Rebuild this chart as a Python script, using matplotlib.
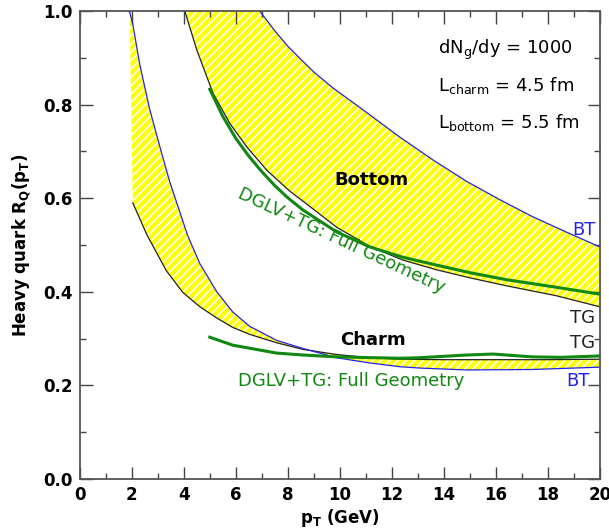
import numpy as np
import matplotlib
matplotlib.use("Agg")
import matplotlib.pyplot as plt
from matplotlib.ticker import MultipleLocator

plt.rcParams['font.family'] = ['DejaVu Sans']
plt.rcParams['hatch.color'] = 'white'
plt.rcParams['hatch.linewidth'] = 1.2

# charm band edges
charm_bt_pt = [1.85, 1.92, 2.04, 2.31, 2.69, 3.08, 3.46, 3.85, 4.15, 4.62, 5.27, 5.88,
               6.54, 7.58, 8.58, 9.88, 11.15, 12.3, 13.1, 14.9, 17.4, 20.0]
charm_bt_r = [1.0, 0.998, 0.972, 0.885, 0.79, 0.71, 0.635, 0.57, 0.52, 0.46, 0.40, 0.357,
              0.326, 0.296, 0.279, 0.259, 0.248, 0.240, 0.237, 0.233, 0.234, 0.239]
charm_tg_pt = [2.04, 2.58, 3.33, 3.96, 4.62, 5.27, 5.88, 6.54, 7.58, 8.58, 9.88, 11.0,
               12.3, 14.0, 16.0, 18.0, 20.0]
charm_tg_r = [0.59, 0.522, 0.445, 0.399, 0.368, 0.344, 0.324, 0.309, 0.291, 0.277, 0.266, 0.26,
              0.256, 0.255, 0.255, 0.255, 0.256]
charm_full_pt = [5.0, 5.88, 7.58, 8.58, 9.88, 12.3, 13.0, 14.9, 15.9, 17.4, 18.5, 20.0]
charm_full_r = [0.303, 0.286, 0.269, 0.265, 0.261, 0.258, 0.259, 0.265, 0.267, 0.261, 0.26, 0.263]

# bottom band edges
bottom_bt_pt = [6.92, 7.5, 8.0, 8.5, 9.0, 9.73, 10.5, 11.04, 12.3, 13.58, 14.88, 16.15,
                17.4, 18.7, 20.0]
bottom_bt_r = [1.0, 0.958, 0.925, 0.897, 0.87, 0.836, 0.805, 0.783, 0.731, 0.682, 0.636, 0.597,
               0.561, 0.528, 0.496]
bottom_tg_pt = [4.04, 4.5, 5.12, 5.77, 6.42, 7.19, 8.08, 8.58, 9.88, 11.15, 12.42, 13.73,
                15.0, 16.4, 18.3, 20.0]
bottom_tg_r = [1.0, 0.917, 0.825, 0.76, 0.71, 0.66, 0.615, 0.594, 0.538, 0.497, 0.468, 0.447,
               0.43, 0.413, 0.392, 0.368]
bottom_full_pt = [5.0, 5.5, 6.0, 6.5, 7.0, 7.5, 8.0, 8.58, 9.88, 11.15, 12.42, 13.73, 15.0,
                  16.4, 18.3, 20.0]
bottom_full_r = [0.833, 0.775, 0.728, 0.69, 0.657, 0.627, 0.601, 0.575, 0.528, 0.496, 0.474, 0.457,
                 0.441, 0.426, 0.41, 0.395]

fig = plt.figure(figsize=(6.09, 5.31), dpi=100)
ax = fig.add_axes([0.131, 0.098, 0.854, 0.881])

yellow = '#ffff00'

# hatched bands (polygon: upper edge then lower edge reversed)
xs = np.concatenate([charm_bt_pt[1:], charm_tg_pt[::-1]])
ys = np.concatenate([charm_bt_r[1:], charm_tg_r[::-1]])
ax.fill(xs, ys, facecolor=yellow, edgecolor='white', hatch='////', linewidth=0, zorder=1)

xs = np.concatenate([bottom_bt_pt, bottom_tg_pt[::-1]])
ys = np.concatenate([bottom_bt_r, bottom_tg_r[::-1]])
ax.fill(xs, ys, facecolor=yellow, edgecolor='white', hatch='////', linewidth=0, zorder=1)

ax.plot(charm_tg_pt, charm_tg_r, color='#222222', lw=0.9, zorder=2)
ax.plot(charm_bt_pt, charm_bt_r, color='#2222ee', lw=0.9, zorder=2)
ax.plot(bottom_tg_pt, bottom_tg_r, color='#222222', lw=0.9, zorder=2)
ax.plot(bottom_bt_pt, bottom_bt_r, color='#2222ee', lw=0.9, zorder=2)
ax.plot(charm_full_pt, charm_full_r, color='#118811', lw=2.2, zorder=3)
ax.plot(bottom_full_pt, bottom_full_r, color='#118811', lw=2.2, zorder=3)

ax.set_xlim(0, 20)
ax.set_ylim(0, 1.0)
ax.xaxis.set_major_locator(MultipleLocator(2))
ax.xaxis.set_minor_locator(MultipleLocator(1))
ax.yaxis.set_major_locator(MultipleLocator(0.2))
ax.yaxis.set_minor_locator(MultipleLocator(0.1))
ax.yaxis.set_major_formatter(plt.FuncFormatter(lambda v, p: '%.1f' % v))
ax.tick_params(which='both', direction='in', top=True, right=True, color='#444444', width=1.0)
ax.tick_params(which='major', length=9, labelsize=12, pad=5)
ax.tick_params(which='minor', length=4.5)
for lab in ax.get_xticklabels() + ax.get_yticklabels():
    lab.set_fontweight('bold')
for s in ax.spines.values():
    s.set_color('#555555')
    s.set_linewidth(1.3)

ax.set_xlabel(r'p$_\mathbf{T}$ (GeV)', fontsize=12, fontweight='bold', labelpad=2)
ax.set_ylabel(r'Heavy quark R$_\mathbf{Q}$(p$_\mathbf{T}$)', fontsize=12, fontweight='bold',
              labelpad=8)

ax.text(13.77, 0.917, r'dN$_\mathrm{g}$/dy = 1000', fontsize=13, va='center')
ax.text(13.77, 0.842, r'L$_\mathrm{charm}$ = 4.5 fm', fontsize=13, va='center')
ax.text(13.77, 0.763, r'L$_\mathrm{bottom}$ = 5.5 fm', fontsize=13, va='center')

ax.text(11.2, 0.639, 'Bottom', fontsize=13, fontweight='bold', ha='center', va='center')
ax.text(11.27, 0.297, 'Charm', fontsize=13, fontweight='bold', ha='center', va='center')

ax.text(10.06, 0.509, 'DGLV+TG: Full Geometry', fontsize=13, color='#118811',
        ha='center', va='center', rotation=-25, rotation_mode='anchor')
ax.text(10.42, 0.209, 'DGLV+TG: Full Geometry', fontsize=13, color='#118811',
        ha='center', va='center')

ax.text(19.85, 0.532, 'BT', fontsize=13, color='#2222ee', ha='right', va='center')
ax.text(19.8, 0.344, 'TG', fontsize=13, color='#222222', ha='right', va='center')
ax.text(19.8, 0.291, 'TG', fontsize=13, color='#222222', ha='right', va='center')
ax.text(19.6, 0.209, 'BT', fontsize=13, color='#2222ee', ha='right', va='center')

fig.savefig('out.png', dpi=100)
